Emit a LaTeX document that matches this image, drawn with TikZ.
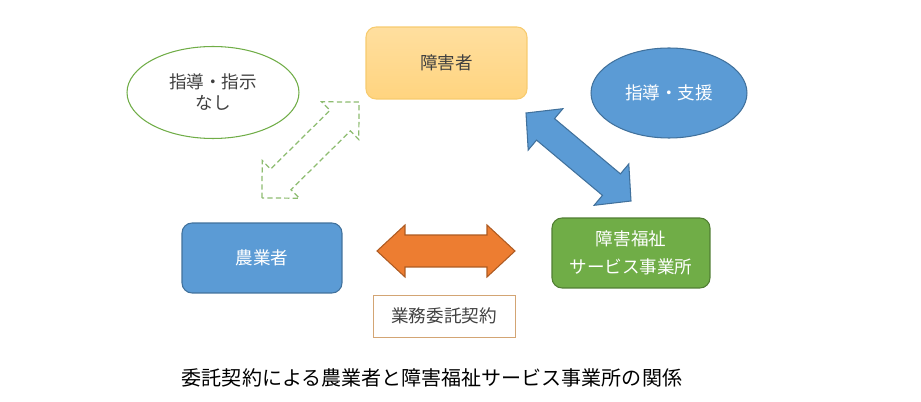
\documentclass[tikz,border=0pt]{standalone}
\usepackage{fontspec}
\setmainfont{Noto Sans CJK JP}
\usetikzlibrary{positioning, calc, shapes.geometric}

\definecolor{boxblue}{HTML}{5B9BD5}
\definecolor{lineblue}{HTML}{41719C}
\definecolor{boxgreen}{HTML}{70AD47}
\definecolor{linegreen}{HTML}{507E32}
\definecolor{boxorange}{HTML}{ED7D31}
\definecolor{lineorange}{HTML}{AE5A21}
\definecolor{boxyellow}{HTML}{FFD47F}
\definecolor{lineyellow}{HTML}{F7CB6E}
\definecolor{dashgreen}{HTML}{8DBC70}
\definecolor{linetan}{HTML}{D3A574}
\definecolor{textgray}{HTML}{404040}

% double block arrow: style, tip a, tip b, head length, head half width, shaft half width
\newcommand{\dblarrow}[6]{%
  \coordinate (ha) at ($(#2)!#4!(#3)$);
  \coordinate (hb) at ($(#3)!#4!(#2)$);
  \draw[#1] (#2) -- ($(ha)!#5!90:(#3)$) -- ($(ha)!#6!90:(#3)$)
    -- ($(hb)!#6!-90:(#2)$) -- ($(hb)!#5!-90:(#2)$) -- (#3)
    -- ($(hb)!#5!90:(#2)$) -- ($(hb)!#6!90:(#2)$)
    -- ($(ha)!#6!-90:(#3)$) -- ($(ha)!#5!-90:(#3)$) -- cycle;
}

\tikzset{
  roundbox/.style={rectangle, rounded corners=0.2cm, line width=0.6pt,
    align=center, font=\fontsize{10}{16}\selectfont},
  oval/.style={ellipse, line width=0.6pt, align=center, inner sep=0pt,
    font=\fontsize{10}{12}\selectfont},
}

\begin{document}
\begin{tikzpicture}[x=0.02cm, y=-0.02cm]
    \useasboundingbox (0,0) rectangle (921,402);
    % parties
    \node[roundbox, top color=boxyellow!75!white, bottom color=boxyellow, draw=lineyellow,
        text=textgray, minimum width=3.22cm, minimum height=1.44cm] (person) at (446.5,63) {障害者};
    \node[roundbox, fill=boxblue, draw=lineblue, text=white,
        minimum width=3.2cm, minimum height=1.4cm] (farmer) at (262,258) {農業者};
    \node[roundbox, fill=boxgreen, draw=linegreen, text=white,
        minimum width=3.16cm, minimum height=1.4cm] (office) at (631,253) {障害福祉\\サービス事業所};
    \node[rectangle, draw=linetan, line width=0.5pt, text=textgray, font=\fontsize{10}{12}\selectfont,
        minimum width=2.84cm, minimum height=0.84cm] (contract) at (444,316) {業務委託契約};
    % notes
    \node[oval, draw=boxgreen, fill=white, text=textgray,
        minimum width=3.44cm, minimum height=1.84cm] (nonote) at (213,92.5) {指導・指示\\なし};
    \node[oval, draw=lineblue, fill=boxblue, text=white,
        minimum width=3.12cm, minimum height=1.8cm] (support) at (669,93) {指導・支援};
    % arrow tips
    \coordinate (dashA) at (262,198);
    \coordinate (dashB) at (359,102);
    \coordinate (blueA) at (526,113);
    \coordinate (blueB) at (631,201);
    \coordinate (orangeA) at (377,251);
    \coordinate (orangeB) at (515,251);
    \dblarrow{draw=dashgreen, dash pattern=on 3pt off 1.8pt, line width=0.7pt}{dashA}{dashB}{0.53cm}{0.53cm}{0.29cm}
    \dblarrow{draw=lineblue, fill=boxblue, line width=0.6pt}{blueA}{blueB}{0.51cm}{0.54cm}{0.28cm}
    \dblarrow{draw=lineorange, fill=boxorange, line width=0.6pt}{orangeA}{orangeB}{0.56cm}{0.52cm}{0.32cm}
    % caption
    \node[font=\fontsize{11.4}{14}\selectfont] (caption) at (432,378) {委託契約による農業者と障害福祉サービス事業所の関係};
\end{tikzpicture}
\end{document}
